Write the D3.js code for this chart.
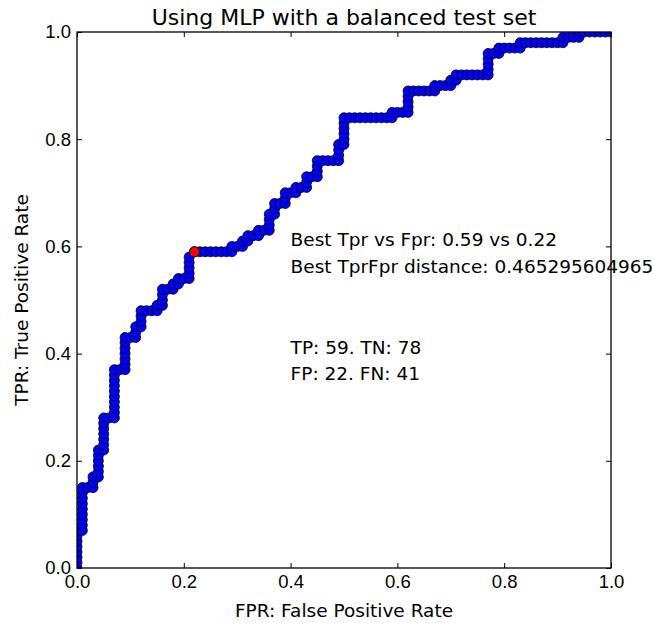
<!DOCTYPE html>
<html>
<head>
<meta charset="utf-8">
<script src="https://cdn.jsdelivr.net/npm/d3@7"></script>
<style>
  body { margin: 0; background: #fff; }
  svg { font-family: "DejaVu Sans", sans-serif; }
  .axis text { font-size: 18.5px; fill: #000; }
  .axis line { stroke: #000; }
</style>
</head>
<body>
<div id="chart"></div>
<script>
// ROC points as counts (100 negatives, 100 positives in the test set)
const nNeg = 100;
const nPos = 100;
const fpCounts = [
  0,0,0,0,0,0,0,0,
  1,1,1,1,1,1,1,1,1,
  2,3,3,3,
  4,4,4,4,4,4,
  5,5,5,5,5,5,5,
  6,7,7,7,7,7,7,7,7,7,7,
  8,9,9,9,9,9,9,9,
  10,11,11,11,
  12,12,12,12,
  13,14,15,15,
  16,16,16,16,
  17,18,18,19,19,20,21,
  21,21,21,21,
  22,23,24,25,26,27,28,29,
  29,30,31,31,32,32,33,34,34,35,36,36,36,36,
  37,37,37,38,39,39,39,40,41,41,42,43,43,43,44,45,45,45,45,
  46,47,48,49,49,49,49,
  50,50,50,50,50,50,
  51,52,53,54,55,56,57,58,59,59,
  60,61,62,62,62,62,62,
  63,64,65,66,67,67,68,69,70,70,71,71,
  72,73,74,75,76,77,77,77,77,77,
  78,79,79,80,81,82,83,83,
  84,85,86,87,88,89,90,91,91,
  92,93,94,94,
  95,96,97,98,99,100
];
const tpCounts = [
  0,1,2,3,4,5,6,7,
  7,8,9,10,11,12,13,14,15,
  15,15,16,17,
  17,18,19,20,21,22,
  22,23,24,25,26,27,28,
  28,28,29,30,31,32,33,34,35,36,37,
  37,37,38,39,40,41,42,43,
  43,43,44,45,
  45,46,47,48,
  48,48,48,49,
  49,50,51,52,
  52,52,53,53,54,54,54,
  55,56,57,58,
  59,59,59,59,59,59,59,59,
  60,60,60,61,61,62,62,62,63,63,63,64,65,66,
  66,67,68,68,68,69,70,70,70,71,71,71,72,73,73,73,74,75,76,
  76,76,76,76,77,78,79,
  79,80,81,82,83,84,
  84,84,84,84,84,84,84,84,84,85,
  85,85,85,86,87,88,89,
  89,89,89,89,89,90,90,90,90,91,91,92,
  92,92,92,92,92,92,93,94,95,96,
  96,96,97,97,97,97,97,98,
  98,98,98,98,98,98,98,98,99,
  99,99,99,100,
  100,100,100,100,100,100
];
const bestPoint = { fpr: 0.22, tpr: 0.59 };
const tickValues = [0, 0.2, 0.4, 0.6, 0.8, 1.0];
const notes = [
  { x: 0.4, y: 0.60, text: "Best Tpr vs Fpr: 0.59 vs 0.22" },
  { x: 0.4, y: 0.55, text: "Best TprFpr distance: 0.465295604965" },
  { x: 0.4, y: 0.40, text: "TP: 59. TN: 78" },
  { x: 0.4, y: 0.35, text: "FP: 22. FN: 41" }
];

const W = 654, H = 623;
const margin = { top: 32, right: 43, bottom: 55, left: 77 };
const width = W - margin.left - margin.right;
const height = H - margin.top - margin.bottom;

const points = fpCounts.map((fp, i) => ({ fpr: fp / nNeg, tpr: tpCounts[i] / nPos }));

const svg = d3.select("#chart").append("svg")
  .attr("width", W)
  .attr("height", H);

svg.append("defs").append("clipPath")
  .attr("id", "plot-clip")
  .append("rect")
  .attr("width", W - margin.left - margin.right)
  .attr("height", H - margin.top - margin.bottom);

const g = svg.append("g")
  .attr("transform", `translate(${margin.left},${margin.top})`);

const x = d3.scaleLinear().domain([0, 1]).range([0, width]);
const y = d3.scaleLinear().domain([0, 1]).range([height, 0]);
const fmt = d3.format(".1f");

// axes with inward ticks on all four sides
g.append("g").attr("class", "axis")
  .attr("transform", `translate(0,${height})`)
  .call(d3.axisBottom(x).tickValues(tickValues).tickFormat(fmt).tickSize(-5).tickPadding(7))
  .call(a => a.select(".domain").remove());
g.append("g").attr("class", "axis")
  .call(d3.axisTop(x).tickValues(tickValues).tickFormat("").tickSize(-5))
  .call(a => a.select(".domain").remove());
g.append("g").attr("class", "axis")
  .call(d3.axisLeft(y).tickValues(tickValues).tickFormat(fmt).tickSize(-5).tickPadding(6))
  .call(a => a.select(".domain").remove());
g.append("g").attr("class", "axis")
  .attr("transform", `translate(${width},0)`)
  .call(d3.axisRight(y).tickValues(tickValues).tickFormat("").tickSize(-5))
  .call(a => a.select(".domain").remove());

// curve with markers, clipped to the axes like matplotlib does
const plot = g.append("g").attr("clip-path", "url(#plot-clip)");

const line = d3.line().x(d => x(d.fpr)).y(d => y(d.tpr));
plot.append("path")
  .datum(points)
  .attr("d", line)
  .attr("fill", "none")
  .attr("stroke", "#0000ff")
  .attr("stroke-width", 1.4);

plot.append("g")
  .selectAll("circle")
  .data(points)
  .enter().append("circle")
  .attr("cx", d => x(d.fpr))
  .attr("cy", d => y(d.tpr))
  .attr("r", 5)
  .attr("fill", "#0000ff")
  .attr("stroke", "#000")
  .attr("stroke-width", 0.8);

plot.append("circle")
  .attr("cx", x(bestPoint.fpr))
  .attr("cy", y(bestPoint.tpr))
  .attr("r", 5)
  .attr("fill", "#ff0000")
  .attr("stroke", "#000")
  .attr("stroke-width", 0.8);

// frame
g.append("rect")
  .attr("width", width)
  .attr("height", height)
  .attr("fill", "none")
  .attr("stroke", "#000")
  .attr("stroke-width", 1.3);

// annotations
g.append("g")
  .selectAll("text")
  .data(notes)
  .enter().append("text")
  .attr("x", d => x(d.x))
  .attr("y", d => y(d.y))
  .attr("font-size", 18.5)
  .text(d => d.text);

svg.append("text")
  .attr("x", margin.left + width / 2)
  .attr("y", 25)
  .attr("text-anchor", "middle")
  .attr("font-size", 22)
  .text("Using MLP with a balanced test set");

svg.append("text")
  .attr("x", margin.left + width / 2)
  .attr("y", 617)
  .attr("text-anchor", "middle")
  .attr("font-size", 18.5)
  .text("FPR: False Positive Rate");

svg.append("text")
  .attr("transform", `translate(28,${margin.top + height / 2}) rotate(-90)`)
  .attr("text-anchor", "middle")
  .attr("font-size", 18.5)
  .text("TPR: True Positive Rate");
</script>
</body>
</html>
